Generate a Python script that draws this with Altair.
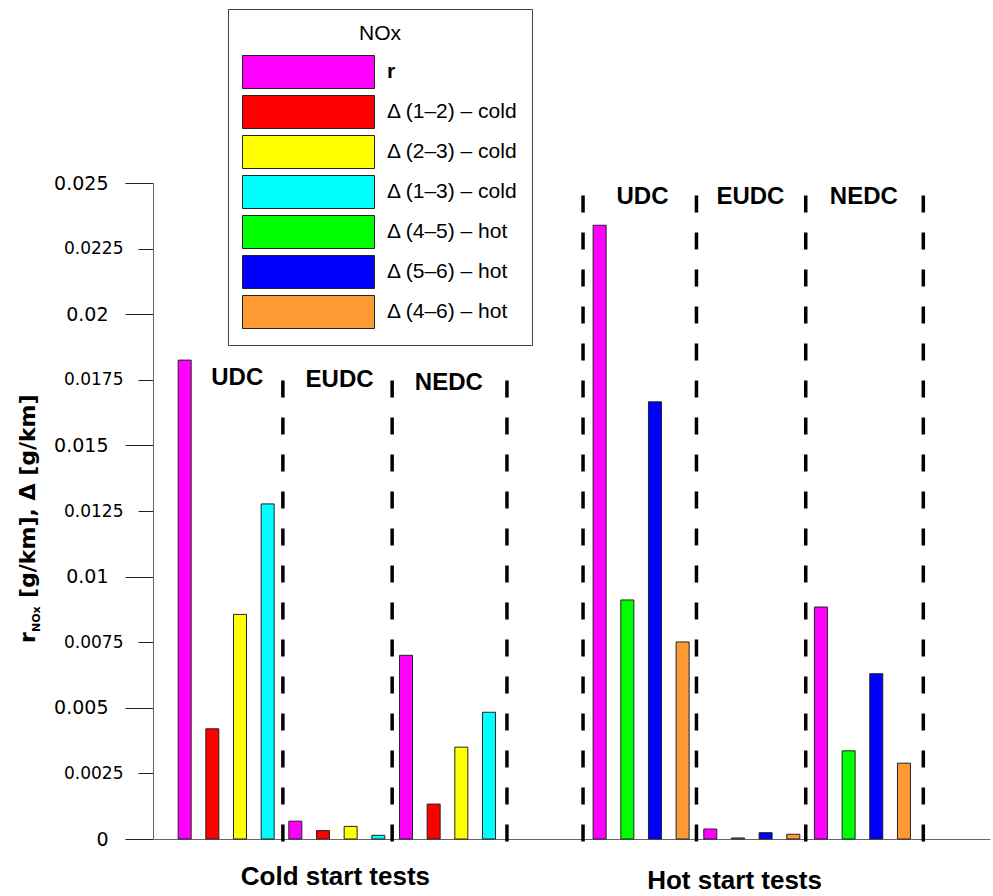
import altair as alt
import pandas as pd

# ---- data -------------------------------------------------------------
cycles = ["UDC", "EUDC", "NEDC"]
group_names = ["Cold start tests", "Hot start tests"]

series_labels = [
    "r",
    "Δ (1–2) – cold",
    "Δ (2–3) – cold",
    "Δ (1–3) – cold",
    "Δ (4–5) – hot",
    "Δ (5–6) – hot",
    "Δ (4–6) – hot",
]
series_colors = ["#FF00FF", "#FF0000", "#FFFF00", "#00FFFF", "#00FF00", "#0000FF", "#FF9933"]

cold_series = ["r", "Δ (1–2) – cold", "Δ (2–3) – cold", "Δ (1–3) – cold"]
hot_series = ["r", "Δ (4–5) – hot", "Δ (5–6) – hot", "Δ (4–6) – hot"]

# NOx values [g/km] per cycle: UDC, EUDC, NEDC
cold_r = [0.01825, 0.00068, 0.00700]
cold_d12 = [0.00420, 0.00032, 0.00133]
cold_d23 = [0.00856, 0.00048, 0.00350]
cold_d13 = [0.01277, 0.00014, 0.00483]

hot_r = [0.02339, 0.00038, 0.00884]
hot_d45 = [0.00911, 0.00004, 0.00336]
hot_d56 = [0.01666, 0.00024, 0.00630]
hot_d46 = [0.00751, 0.00018, 0.00289]

y_ticks = [0, 0.0025, 0.005, 0.0075, 0.01, 0.0125, 0.015, 0.0175, 0.02, 0.0225, 0.025]

# ---- slot layout (one slot per bar, 4 bars per cycle) ------------------
BARS_PER_CYCLE = 4
HOT_OFFSET = 15  # first slot of the hot-start group

groups = [
    (group_names[0], 0, cold_series, [cold_r, cold_d12, cold_d23, cold_d13]),
    (group_names[1], HOT_OFFSET, hot_series, [hot_r, hot_d45, hot_d56, hot_d46]),
]

rows = []
for gname, offset, names, arrays in groups:
    for c, cyc in enumerate(cycles):
        for s, (name, arr) in enumerate(zip(names, arrays)):
            rows.append(
                {
                    "group": gname,
                    "cycle": cyc,
                    "series": name,
                    "slot": offset + BARS_PER_CYCLE * c + s,
                    "value": arr[c],
                }
            )
bars_df = pd.DataFrame(rows)

# dashed separators between the driving cycles (slot units, g/km)
cold_separators = [3.55, 7.5, 11.65]
hot_separators = [14.4, 18.5, 22.45, 26.7]
cold_sep_top = 0.0176
hot_sep_top = 0.0247
sep_df = pd.DataFrame(
    [{"slot": p, "y0": -0.0001, "top": cold_sep_top} for p in cold_separators]
    + [{"slot": p, "y0": -0.0001, "top": hot_sep_top} for p in hot_separators]
)

# cycle names written above each block of bars
cycle_label_slots = [1.9, 5.6, 9.55, 16.55, 20.45, 24.55]
cycle_label_y = [0.0173, 0.01724, 0.01712, 0.0242, 0.0242, 0.0242]
cyc_df = pd.DataFrame(
    {"text": cycles + cycles, "slot": cycle_label_slots, "y": cycle_label_y}
)

group_label_slots = [5.43, 19.86]

# ---- scales -------------------------------------------------------------
x_scale = alt.Scale(domain=[-0.964, 28.93], nice=False, zero=False)
y_scale = alt.Scale(domain=[0, 0.025], nice=False, zero=True)

major_test = "abs(datum.value*200 - round(datum.value*200)) < 0.001"

x_axis = alt.Axis(
    values=group_label_slots,
    labelExpr="datum.value < 12 ? 'Cold start tests' : 'Hot start tests'",
    ticks=False,
    grid=False,
    title=None,
    domainColor="#666666",
    labelFont="Liberation Sans",
    labelFontWeight="bold",
    labelFontSize=26,
    labelColor="black",
    labelBaseline="top",
    labelPadding={"condition": {"test": "datum.value < 12", "value": 24}, "value": 28},
    labelFlush=False,
    labelOverlap=False,
    labelLimit=0,
)

y_axis = alt.Axis(
    values=y_ticks,
    labelExpr="'' + datum.value",
    title=None,
    grid=False,
    domainColor="#666666",
    tickColor="#222222",
    tickSize={"condition": {"test": major_test, "value": 28}, "value": 15},
    labelFontSize={"condition": {"test": major_test, "value": 19}, "value": 17},
    labelPadding={"condition": {"test": major_test, "value": 17}, "value": 15},
    labelFont="DejaVu Sans",
    labelColor="black",
    labelOverlap=False,
)

# wide flat swatch: unit = half the nominal symbol size, drawn to the right of
# the symbol's anchor so that the label column stays clear of it
SWATCH_H = 33
legend = alt.Legend(
    title="NOx",
    orient="none",
    legendX=75,
    legendY=-174,
    direction="vertical",
    fillColor="white",
    strokeColor="#444444",
    padding=14,
    titleFont="Liberation Sans",
    titleFontSize=21,
    titleFontWeight="normal",
    titleColor="black",
    titleAnchor="middle",
    titleAlign="center",
    titlePadding=11,
    symbolType="M-1,-1H7V1H-1Z",
    symbolSize=SWATCH_H * SWATCH_H,
    symbolStrokeColor="#222222",
    symbolStrokeWidth=1,
    symbolOpacity=1,
    labelFont="Liberation Sans",
    labelFontSize=21,
    labelFontWeight={"expr": "datum.label == 'r' ? 'bold' : 'normal'"},
    labelColor="black",
    labelOffset=111,
    labelLimit=0,
    rowPadding=2,
)

# ---- layers -------------------------------------------------------------
bars = (
    alt.Chart(bars_df)
    .mark_bar(size=13, stroke="#222222", strokeWidth=1)
    .encode(
        x=alt.X("slot:Q", scale=x_scale, axis=x_axis),
        y=alt.Y("value:Q", scale=y_scale, axis=y_axis),
        color=alt.Color(
            "series:N",
            scale=alt.Scale(domain=series_labels, range=series_colors),
            sort=series_labels,
            legend=legend,
        ),
    )
)

separators = (
    alt.Chart(sep_df)
    .mark_rule(color="black", strokeWidth=3.5, strokeDash=[17, 20])
    .encode(
        x=alt.X("slot:Q", scale=x_scale),
        y=alt.Y("y0:Q", scale=y_scale),
        y2="top:Q",
    )
)

cycle_labels = (
    alt.Chart(cyc_df)
    .mark_text(
        font="Liberation Sans",
        fontWeight="bold",
        fontSize=24,
        color="black",
        align="center",
        baseline="alphabetic",
    )
    .encode(
        x=alt.X("slot:Q", scale=x_scale),
        y=alt.Y("y:Q", scale=y_scale),
        text="text:N",
    )
)

# y-axis title: r with NOx subscript, then the units
title_style = dict(font="DejaVu Sans", fontWeight="bold", color="black",
                   angle=270, align="left", baseline="alphabetic")
one_row = alt.Data(values=[{}])
title_r = alt.Chart(one_row).mark_text(text="r", fontSize=22, **title_style).encode(
    x=alt.value(-118), y=alt.value(460)
)
title_sub = alt.Chart(one_row).mark_text(text="NOx", fontSize=11, **title_style).encode(
    x=alt.value(-113), y=alt.value(449)
)
title_rest = alt.Chart(one_row).mark_text(
    text="[g/km], Δ [g/km]", fontSize=22, **title_style
).encode(x=alt.value(-118), y=alt.value(415))

chart = (
    alt.layer(bars, separators, cycle_labels, title_r, title_sub, title_rest)
    .properties(
        width=837,
        height=656,
        autosize=alt.AutoSizeParams(type="none"),
        padding={"left": 153, "top": 183, "right": 3, "bottom": 57},
        background="white",
    )
    .configure_view(stroke=None)
)

chart.save("out.html", embed_options={"renderer": "svg", "actions": False})
